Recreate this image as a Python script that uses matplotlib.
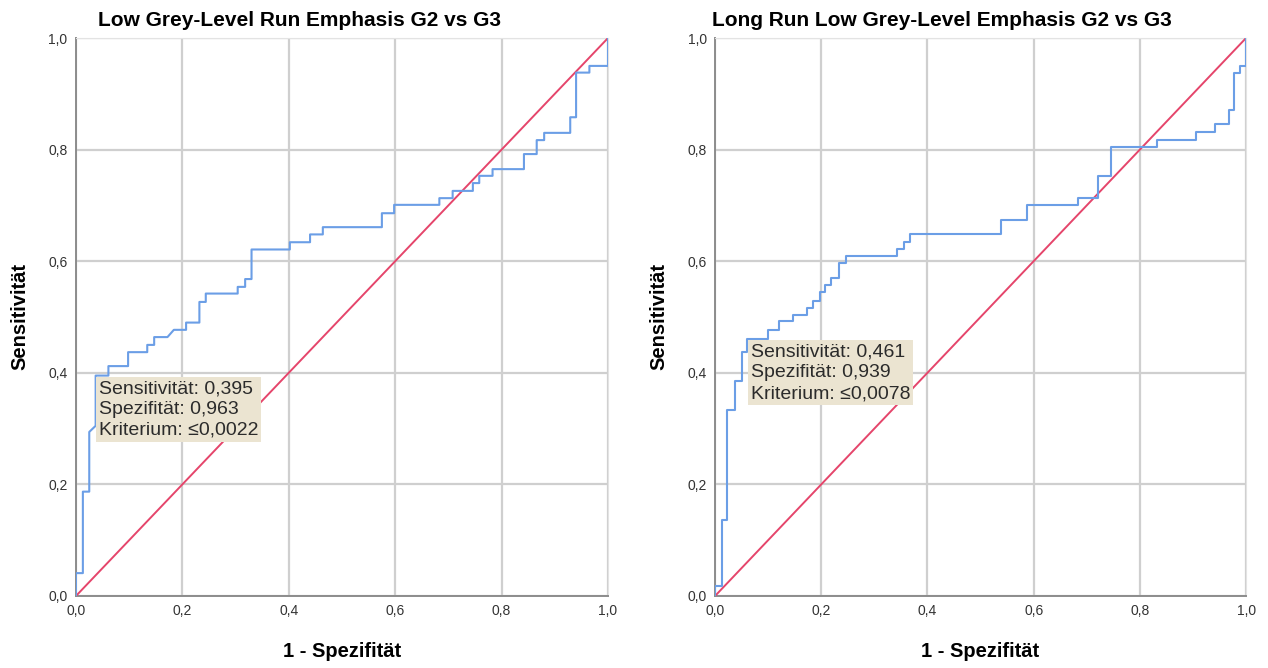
import numpy as np
import matplotlib
matplotlib.use("Agg")
import matplotlib.pyplot as plt
from matplotlib.ticker import FuncFormatter

plt.rcParams['font.family'] = ['Liberation Sans', 'DejaVu Sans']

# ROC-Kurve 1: Low Grey-Level Run Emphasis (1 - Spezifität, Sensitivität)
lgre_fpr = [0.0, 0.0, 0.013, 0.013, 0.025, 0.025, 0.037, 0.037, 0.061, 0.061,
            0.098, 0.098, 0.134, 0.134, 0.147, 0.147, 0.172, 0.184, 0.207, 0.207,
            0.232, 0.232, 0.244, 0.244, 0.304, 0.304, 0.318, 0.318, 0.330, 0.330,
            0.402, 0.402, 0.440, 0.440, 0.464, 0.464, 0.575, 0.575, 0.598, 0.598,
            0.683, 0.683, 0.708, 0.708, 0.746, 0.746, 0.758, 0.758, 0.783, 0.783,
            0.842, 0.842, 0.866, 0.866, 0.880, 0.880, 0.929, 0.929, 0.940, 0.940,
            0.965, 0.965, 1.0, 1.0]
lgre_tpr = [0.0, 0.041, 0.041, 0.187, 0.187, 0.294, 0.305, 0.395, 0.395, 0.412,
            0.412, 0.437, 0.437, 0.450, 0.450, 0.464, 0.464, 0.477, 0.477, 0.490,
            0.490, 0.527, 0.527, 0.542, 0.542, 0.554, 0.554, 0.568, 0.568, 0.621,
            0.621, 0.634, 0.634, 0.648, 0.648, 0.661, 0.661, 0.686, 0.686, 0.701,
            0.701, 0.713, 0.713, 0.726, 0.726, 0.740, 0.740, 0.753, 0.753, 0.765,
            0.765, 0.792, 0.792, 0.817, 0.817, 0.830, 0.830, 0.858, 0.858, 0.938,
            0.938, 0.950, 0.950, 1.0]

# ROC-Kurve 2: Long Run Low Grey-Level Emphasis
lrlgle_fpr = [0.0, 0.0, 0.013, 0.013, 0.023, 0.023, 0.038, 0.038, 0.050, 0.050,
              0.061, 0.061, 0.099, 0.099, 0.121, 0.121, 0.147, 0.147, 0.173, 0.173,
              0.184, 0.184, 0.198, 0.198, 0.208, 0.208, 0.219, 0.219, 0.234, 0.234,
              0.246, 0.246, 0.342, 0.342, 0.355, 0.355, 0.367, 0.367, 0.538, 0.538,
              0.587, 0.587, 0.684, 0.684, 0.721, 0.721, 0.746, 0.746, 0.832, 0.832,
              0.905, 0.905, 0.942, 0.942, 0.967, 0.967, 0.978, 0.978, 0.989, 0.989,
              1.0, 1.0]
lrlgle_tpr = [0.0, 0.018, 0.018, 0.136, 0.136, 0.333, 0.333, 0.385, 0.385, 0.438,
              0.438, 0.461, 0.461, 0.477, 0.477, 0.492, 0.492, 0.504, 0.504, 0.517,
              0.517, 0.529, 0.529, 0.544, 0.544, 0.557, 0.557, 0.569, 0.569, 0.596,
              0.596, 0.609, 0.609, 0.621, 0.621, 0.635, 0.635, 0.648, 0.648, 0.674,
              0.674, 0.701, 0.701, 0.714, 0.714, 0.753, 0.753, 0.805, 0.805, 0.818,
              0.818, 0.832, 0.832, 0.846, 0.846, 0.871, 0.871, 0.937, 0.937, 0.950,
              0.950, 1.0]

titles = ["Low Grey-Level Run Emphasis G2 vs G3",
          "Long Run Low Grey-Level Emphasis G2 vs G3"]
# optimaler Trennwert: (Sensitivität, Spezifität, Kriterium)
cutoffs = [(0.395, 0.963, "\u22640,0022"),
           (0.461, 0.939, "\u22640,0078")]
ticks = [0.0, 0.2, 0.4, 0.6, 0.8, 1.0]

BLUE = "#6b9ee6"
RED = "#e5456b"
GRID = "#cfcfcf"
BOX = "#ebe4d1"

comma = FuncFormatter(lambda v, pos: f"{v:.1f}".replace(".", ","))

fig = plt.figure(figsize=(12.68, 6.68), dpi=100)
ax1 = fig.add_axes([0.0599, 0.1078, 0.4196, 0.8353])
ax2 = fig.add_axes([0.5639, 0.1078, 0.4188, 0.8353])

curves = [(lgre_fpr, lgre_tpr), (lrlgle_fpr, lrlgle_tpr)]
title_x = [0.421, 0.427]

for ax, (fpr, tpr), title, (sens, spez, krit), tx in zip(
        [ax1, ax2], curves, titles, cutoffs, title_x):
    ax.set_xlim(0, 1)
    ax.set_ylim(0, 1)
    ax.set_xticks(ticks)
    ax.set_yticks(ticks)
    ax.xaxis.set_major_formatter(comma)
    ax.yaxis.set_major_formatter(comma)
    ax.tick_params(length=0, labelsize=10, colors="#333333", pad=6)
    ax.grid(True, color=GRID, linewidth=1.6)
    ax.set_axisbelow(True)
    for side in ["top", "right"]:
        ax.spines[side].set_color("#e3e3e3")
    for side in ["left", "bottom"]:
        ax.spines[side].set_color("#8c8c8c")
        ax.spines[side].set_linewidth(1.4)

    # Referenzlinie und ROC-Kurve
    ax.plot([0, 1], [0, 1], color=RED, linewidth=1.4, zorder=3)
    ax.plot(fpr, tpr, color=BLUE, linewidth=1.5, zorder=4)

    label = (f"Sensitivität: {sens:.3f}\nSpezifität: {spez:.3f}\n"
             f"Kriterium: {krit}").replace("0.", "0,")
    ax.text(1 - spez + 0.006, sens - 0.008, label,
            ha="left", va="top", fontsize=14, color="#2b2b2b", linespacing=1.3,
            bbox=dict(boxstyle="square,pad=0.15", facecolor=BOX, edgecolor="none"),
            zorder=5)

    ax.text(tx, 1.032, title, transform=ax.transAxes, ha="center", va="center",
            fontsize=15, fontweight="bold")
    ax.set_xlabel("1 - Spezifität", fontsize=14.5, fontweight="bold", va="center")
    ax.set_ylabel("Sensitivität", fontsize=14.5, fontweight="bold", va="center")
    ax.xaxis.set_label_coords(0.5, -0.099)
    ax.yaxis.set_label_coords(-0.105, 0.5)

fig.savefig("out.png", dpi=100)
